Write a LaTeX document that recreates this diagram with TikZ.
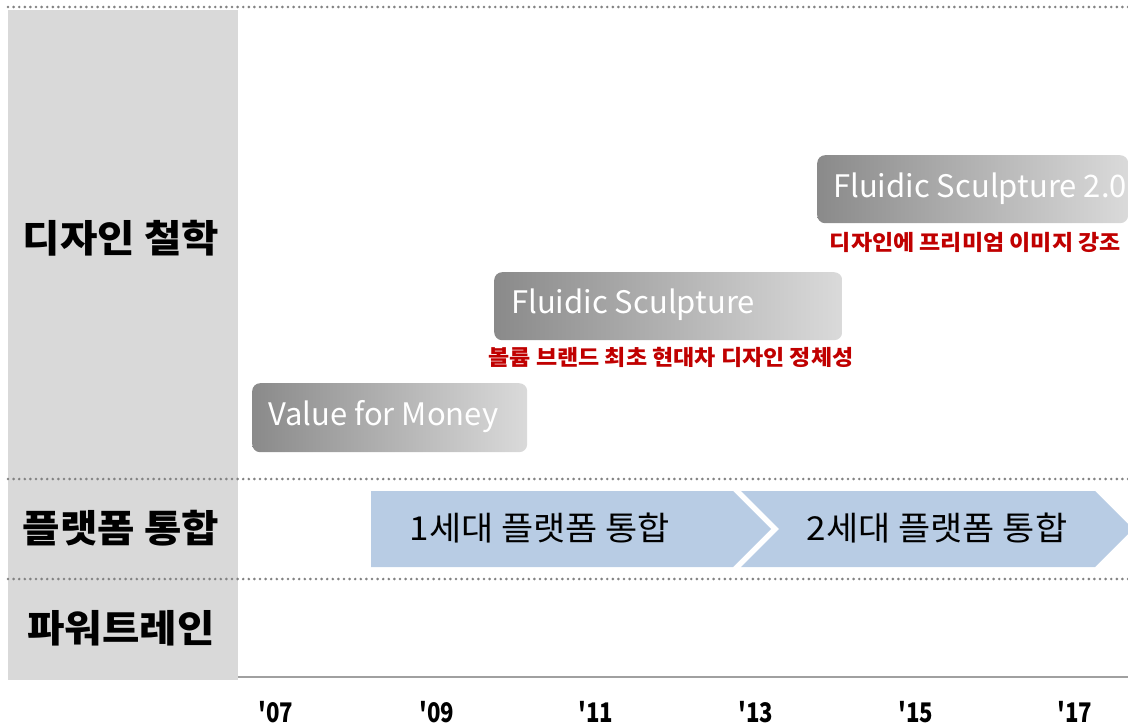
\documentclass[tikz,border=0pt]{standalone}
\usepackage{fontspec}
\setmainfont{Noto Sans CJK KR}
\definecolor{colgray}{RGB}{217,217,217}
\definecolor{dotgray}{RGB}{130,130,130}
\definecolor{axisgray}{RGB}{160,160,160}
\definecolor{chev}{RGB}{184,204,228}
\definecolor{gleft}{RGB}{138,138,138}
\definecolor{gright}{RGB}{218,218,218}
\definecolor{subred}{RGB}{192,0,0}
\tikzset{
  dotline/.style={draw=dotgray, line width=2.9pt, line cap=round, dash pattern=on 0pt off 5.6pt},
  gbox/.style={rounded corners=8pt, left color=gleft, right color=gright, draw=none, inner sep=0pt, anchor=north west},
  gtext/.style={text=white, font=\fontsize{31}{34}\selectfont, anchor=base west, inner sep=0pt},
  subtext/.style={text=subred, font=\bfseries\fontsize{21.5}{24}\selectfont, inner sep=0pt, xscale=1.07},
  rowlabel/.style={font=\bfseries\fontsize{38}{42}\selectfont, inner sep=0pt, xscale=1.07},
  chevtext/.style={font=\fontsize{33}{38}\selectfont, inner sep=0pt, xscale=1.06},
  yearlabel/.style={font=\bfseries\fontsize{27}{30}\selectfont, inner sep=0pt, xscale=0.82},
}
\begin{document}
\begin{tikzpicture}[x=1pt,y=-1pt]
\useasboundingbox (0,0) rectangle (1128,728);
\clip (0,0) rectangle (1128,728);
% gray column
\fill[colgray] (8,10) rectangle (238,680);
% dotted lines
\coordinate (d1a) at (8,7); \coordinate (d1b) at (1128,7);
\coordinate (d2a) at (8,479); \coordinate (d2b) at (1128,479);
\coordinate (d3a) at (8,579); \coordinate (d3b) at (1128,579);
\draw[dotline] (d1a) -- (d1b);
\draw[dotline] (d2a) -- (d2b);
\draw[dotline] (d3a) -- (d3b);
% axis
\coordinate (ax1) at (238,677); \coordinate (ax2) at (1128,677);
\draw[axisgray, line width=2pt] (ax1) -- (ax2);
% row labels
\node[rowlabel] (r1) at (121,238) {디자인 철학};
\node[rowlabel] (r2) at (121,528) {플랫폼 통합};
\node[rowlabel] (r3) at (121,628) {파워트레인};
% gradient boxes
\node[gbox, minimum width=275pt, minimum height=69pt] (b1) at (252,383) {};
\node[gtext] (t1) at (268,425) {Value for Money};
\node[gbox, minimum width=348pt, minimum height=68pt] (b2) at (494,272) {};
\node[gtext] (t2) at (511,313) {Fluidic Sculpture};
\node[gbox, minimum width=311pt, minimum height=68pt] (b3) at (817,155) {};
\node[gtext] (t3) at (833,197) {Fluidic Sculpture 2.0};
% red subtitles
\node[subtext] (s2) at (671,357) {볼륨 브랜드 최초 현대차 디자인 정체성};
\node[subtext, anchor=east] (s3) at (1121,242) {디자인에 프리미엄 이미지 강조};
% chevrons
\fill[chev] (371,491) -- (733,491) -- (771,529) -- (733,567) -- (371,567) -- cycle;
\fill[chev] (741,491) -- (1095,491) -- (1133,529) -- (1095,567) -- (741,567) -- (779,529) -- cycle;
\node[chevtext] (c1) at (540,528) {1세대 플랫폼 통합};
\node[chevtext] (c2) at (937,528) {2세대 플랫폼 통합};
% years
\node[yearlabel] (y07) at (276,712) {\textquotesingle 07};
\node[yearlabel] (y09) at (437,712) {\textquotesingle 09};
\node[yearlabel] (y11) at (596,712) {\textquotesingle 11};
\node[yearlabel] (y13) at (756,712) {\textquotesingle 13};
\node[yearlabel] (y15) at (916,712) {\textquotesingle 15};
\node[yearlabel] (y17) at (1075,712) {\textquotesingle 17};
\end{tikzpicture}
\end{document}
